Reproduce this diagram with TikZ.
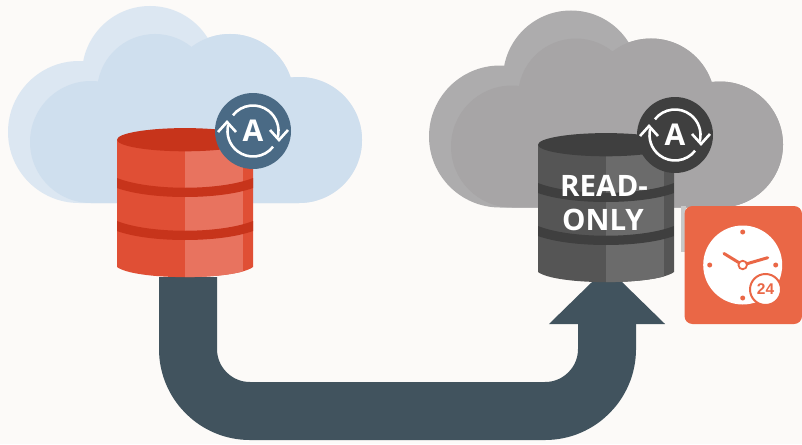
\documentclass[tikz,border=0pt]{standalone}
\usepackage{fontspec}
\setmainfont{Open Sans}
\newfontfamily\digitfont{Liberation Sans}
\usetikzlibrary{arrows.meta,calc}
\definecolor{paper}{HTML}{FCFAF8}
\definecolor{flowcol}{HTML}{41535E}
\definecolor{tilecol}{HTML}{EA6746}
\definecolor{cloudAback}{HTML}{DCE7F2}
\definecolor{cloudAfront}{HTML}{CFDFEE}
\definecolor{cloudBback}{HTML}{ADACAD}
\definecolor{cloudBfront}{HTML}{A7A5A6}
\definecolor{redbody}{HTML}{E04F35}
\definecolor{redlight}{HTML}{E8735F}
\definecolor{reddark}{HTML}{C7341B}
\definecolor{greybody}{HTML}{555555}
\definecolor{greylight}{HTML}{6B6B6B}
\definecolor{greydark}{HTML}{3F3F3F}
\definecolor{badgeblue}{HTML}{4A6A85}
\definecolor{badgegrey}{HTML}{3F3F3F}
\definecolor{patchgrey}{HTML}{C8C8C8}
\newcommand{\cloudshape}[3]{%
 \begin{scope}[shift={(#1)}]
  \fill[#2] (79,132) circle[radius=71pt] (150,74) circle[radius=68pt] (230,98) circle[radius=64pt]
     (299,140) circle[radius=63pt] (79,110) rectangle (299,203);
  \fill[#3] (91,142) circle[radius=61pt] (155,92) circle[radius=58pt] (230,98) circle[radius=64pt]
     (299,140) circle[radius=63pt] (91,110) rectangle (299,203);
 \end{scope}}
\newcommand{\dbcyl}[5]{%
 \begin{scope}[shift={(#1)}]
  \begin{scope}
   \clip (117,140) -- (117,267) .. controls (135,280.5) and (235,280.5) .. (253,267) -- (253,140) -- cycle;
   \fill[#2] (115,125) rectangle (255,285);
   \fill[#3] (185,125) rectangle (243,285);
   \fill[#4] (117,178) .. controls (150,191) and (220,191) .. (253,178) -- (253,188) .. controls (220,200) and (150,200) .. (117,188) -- cycle;
   \fill[#4] (117,221) .. controls (150,234) and (220,234) .. (253,221) -- (253,231) .. controls (220,243) and (150,243) .. (117,231) -- cycle;
  \end{scope}
  \fill[#4] (185,139.7) ellipse[x radius=68pt,y radius=11.6pt];
 \end{scope}}
\newcommand{\syncbadge}[3]{%
 \node[badgedisc,fill=#2] (#3) at (#1) {};
 \node[badgeletter] (#3letter) at (#3) {A};
 \foreach \r in {0,180}{
  \begin{scope}[rotate around={\r:(#3.center)}]
  \draw[syncline] ([shift={(142:25.5pt)}]#3.center) arc[start angle=142,end angle=-14,radius=25.5pt];
  \draw[syncline] ($(#3.center)+(17,-1)$) -- ($(#3.center)+(26,9)$) -- ($(#3.center)+(35,-1)$);
  \end{scope}
 }}
\tikzset{
 x=1pt,y=-1pt,
 badgedisc/.style={circle,inner sep=0pt,minimum size=76pt},
 badgeletter/.style={text=white,font=\bfseries\fontsize{30}{30}\selectfont,inner sep=0pt},
 syncline/.style={draw=white,line width=2.6pt},
 dbanchor/.style={rectangle,inner sep=0pt,minimum width=136pt,minimum height=149pt},
 flow/.style={draw=flowcol,line width=58pt,rounded corners=62pt,-{Triangle[length=57pt,width=113pt]},shorten >=-15pt},
 rotext/.style={text=white,font=\bfseries\fontsize{29.5}{29.5}\selectfont,inner sep=0pt},
 hand/.style={draw=tilecol,line width=3pt,line cap=round},
}
\begin{document}
\begin{tikzpicture}
\useasboundingbox (0,0) rectangle (802,444);
\fill[paper] (0,0) rectangle (802,444);
\cloudshape{0,0}{cloudAback}{cloudAfront}
\cloudshape{421,4.5}{cloudBback}{cloudBfront}
\fill[patchgrey] (681,206) rectangle (686,252);
\node[dbanchor] (source) at (188,202.5) {};
\node[dbanchor] (replica) at (607,207.5) {};
\coordinate (bend) at (400,411);
\draw[flow] (source.south) -- (source.south |- bend) -- (replica.south |- bend) -- (replica.south);
\dbcyl{0,0}{redbody}{redlight}{reddark}{}
\dbcyl{421,5}{greybody}{greylight}{greydark}{}
\node[rotext] (readlabel) at (604,186) {READ-};
\node[rotext] (onlylabel) at (603,220) {ONLY};
\syncbadge{253,131}{badgeblue}{syncA}
\syncbadge{675,135}{badgegrey}{syncB}
\node[fill=tilecol,rounded corners=8pt,inner sep=0pt,minimum width=117.5pt,minimum height=118pt] (tile) at (743.25,265) {};
\node[circle,fill=white,inner sep=0pt,minimum size=79pt] (clock) at (742.7,265) {};
\foreach \dx/\dy in {0/-33,-33/0,33/0,0/33}{
 \fill[tilecol] ($(clock.center)+(\dx,\dy)$) circle[radius=2.5pt];
}
\coordinate (handA) at (724,253.5);
\coordinate (handB) at (767.7,257.7);
\draw[hand] (handA) -- (clock.center) -- (handB);
\node[circle,fill=white,draw=tilecol,line width=1.8pt,inner sep=0pt,minimum size=8.5pt] (pivot) at (clock.center) {};
\node[circle,fill=white,draw=tilecol,line width=2pt,inner sep=0pt,minimum size=31pt,text=tilecol,font=\digitfont\bfseries\fontsize{15.5}{15.5}\selectfont] (day) at (765.5,289.5) {24};
\end{tikzpicture}
\end{document}
